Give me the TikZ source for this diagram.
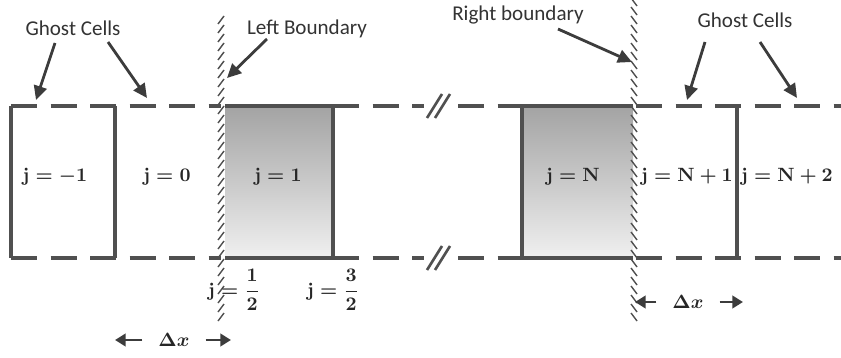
\documentclass[tikz,border=0pt]{standalone}
\usepackage{fontspec}
\usepackage{amsmath}
\newfontfamily\calloutfont{Carlito}
\usetikzlibrary{arrows.meta,calc}
\definecolor{linegray}{HTML}{505050}
\definecolor{arrowgray}{HTML}{3C3C3C}
\tikzset{
  cellline/.style={linegray, line width=2pt},
  gridline/.style={cellline, dash pattern=on 15pt off 7.5pt},
  breakmark/.style={linegray, line width=1.5pt},
  hatch/.style={linegray, line width=0.8pt},
  callout/.style={font=\calloutfont\fontsize{12}{14}\selectfont, text=black!80, inner sep=1pt},
  pointer/.style={arrowgray, line width=1.6pt, -{Triangle[length=8pt,width=7.5pt]}},
  cellname/.style={font=\fontsize{11}{13}\selectfont\boldmath, text=black!85, inner sep=1pt},
  spacing/.style={font=\fontsize{11}{13}\selectfont\boldmath, text=black!85, inner xsep=9pt},
  dimarrow/.style={arrowgray, line width=1.5pt, -{Triangle[length=6pt,width=7pt]}}
}
\begin{document}
\begin{tikzpicture}[x=0.02cm, y=-0.02cm]
  \useasboundingbox (0,0) rectangle (841,358);
  % Shaded cells j = 1 and j = N
  \shade[top color=gray!72, bottom color=gray!12] (225,106) rectangle (333,258);
  \shade[top color=gray!72, bottom color=gray!12] (522,106) rectangle (633,258);
  % Solid cell edges
  \draw[cellline] (225,106) -- (333,106) -- (333,258) -- (225,258);
  \draw[cellline] (633,106) -- (522,106) -- (522,258) -- (633,258);
  \foreach \x in {11,115,737} {
    \draw[cellline] (\x,106) -- (\x,258);
  }
  % Dashed grid lines, broken in the middle
  \foreach \y in {106,258} {
    \draw[gridline] (11,\y) -- (221,\y);
    \draw[gridline] (333,\y) -- (424,\y);
    \draw[gridline] (458,\y) -- (522,\y);
    \draw[gridline] (636,\y) -- (841,\y);
    \draw[breakmark] (427,{\y+12}) -- (442,{\y-12});
    \draw[breakmark] (435,{\y+12}) -- (450,{\y-12});
  }
  % Boundaries (hatched)
  \foreach \y in {20,29,...,325} {
    \draw[hatch] (218,{\y+4}) -- (224,{\y-4});
  }
  \foreach \y in {2,11,...,325} {
    \draw[hatch] (631,{\y-4}) -- (637,{\y+4});
  }
  % Cell names
  \node[cellname] (cm1) at (55,177) {$\mathbf{j}=-\mathbf{1}$};
  \node[cellname] (c0) at (167,177) {$\mathbf{j}=\mathbf{0}$};
  \node[cellname] (c1) at (278,177) {$\mathbf{j}=\mathbf{1}$};
  \node[cellname] (cN) at (573,177) {$\mathbf{j}=\mathbf{N}$};
  \node[cellname] (cN1) at (687,177) {$\mathbf{j}=\mathbf{N}+\mathbf{1}$};
  \node[cellname] (cN2) at (787,177) {$\mathbf{j}=\mathbf{N}+\mathbf{2}$};
  % Cell faces
  \node[cellname] (f1) at (234,290) {$\mathbf{j}=\dfrac{\mathbf{1}}{\mathbf{2}}$};
  \node[cellname] (f3) at (333,290) {$\mathbf{j}=\dfrac{\mathbf{3}}{\mathbf{2}}$};
  % Callouts
  \node[callout] (ghostL) at (73,28) {Ghost Cells};
  \node[callout] (leftB) at (307,29) {Left Boundary};
  \node[callout] (rightB) at (518,15) {Right boundary};
  \node[callout] (ghostR) at (745,20) {Ghost Cells};
  \coordinate (tipGL1) at (36,100);
  \coordinate (tipGL2) at (147,98);
  \coordinate (tipLB) at (227,78);
  \coordinate (tipRB) at (632,62);
  \coordinate (tipGR1) at (687,100);
  \coordinate (tipGR2) at (797,98);
  \draw[pointer] ($(ghostL)+(-18,15)$) -- (tipGL1);
  \draw[pointer] ($(ghostL)+(35,14)$) -- (tipGL2);
  \draw[pointer] ($(leftB)+(-40,10)$) -- (tipLB);
  \draw[pointer] ($(rightB)+(40,14)$) -- (tipRB);
  \draw[pointer] ($(ghostR)+(-40,22)$) -- (tipGR1);
  \draw[pointer] ($(ghostR)+(15,22)$) -- (tipGR2);
  % Cell widths
  \node[spacing] (dxL) at (174,340) {$\Delta x$};
  \node[spacing] (dxR) at (688,302) {$\Delta x$};
  \coordinate (dxL1) at (115,340);
  \coordinate (dxL2) at (231,340);
  \coordinate (dxR1) at (635,302);
  \coordinate (dxR2) at (743,302);
  \draw[dimarrow] (dxL.west) -- (dxL1);
  \draw[dimarrow] (dxL.east) -- (dxL2);
  \draw[dimarrow] (dxR.west) -- (dxR1);
  \draw[dimarrow] (dxR.east) -- (dxR2);
\end{tikzpicture}
\end{document}
